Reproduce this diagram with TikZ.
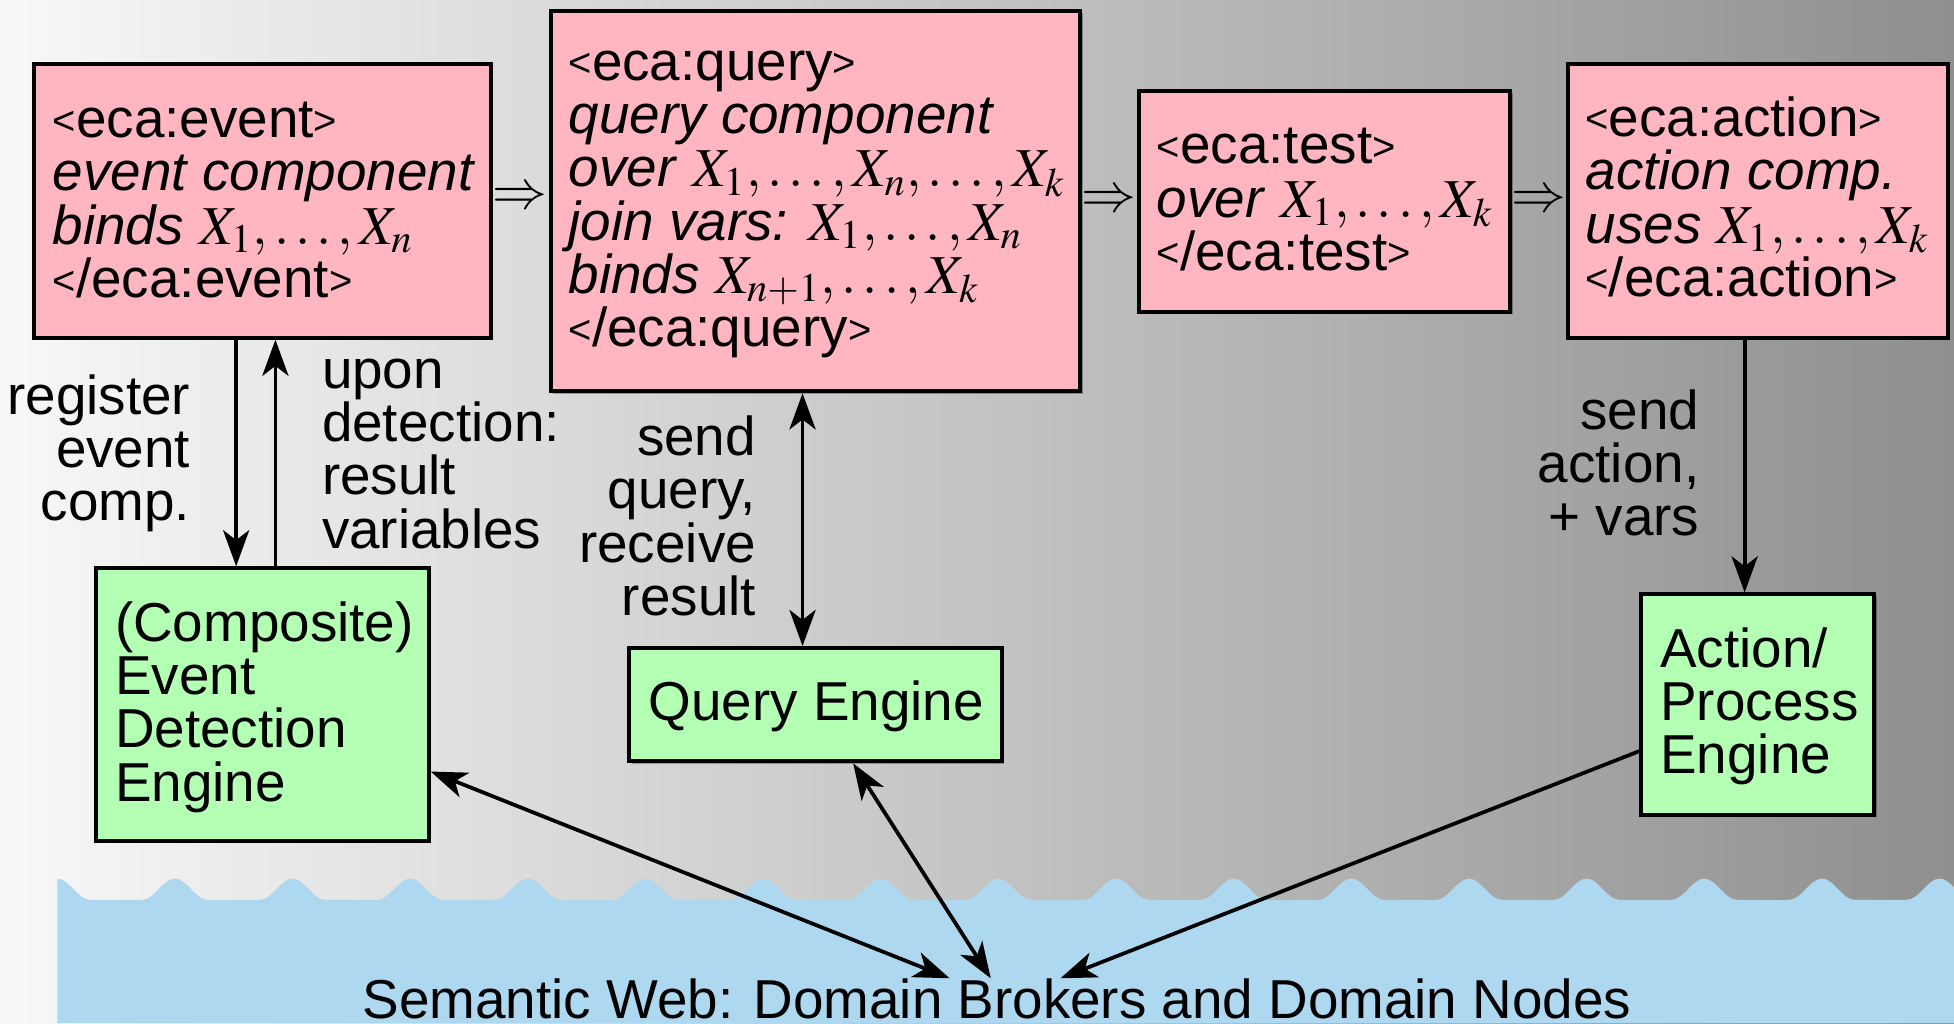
\documentclass[tikz,border=0pt]{standalone}
\usepackage{mathptmx}
\usepackage[no-math]{fontspec}
\setmainfont{Liberation Sans}
\usetikzlibrary{arrows.meta,fit,shadows,calc}
\definecolor{boxpink}{RGB}{255,182,193}
\definecolor{boxgreen}{RGB}{179,255,179}
\definecolor{water}{RGB}{173,216,240}
\definecolor{bgleft}{RGB}{248,248,248}
\definecolor{bgright}{RGB}{143,143,143}
\newcommand\flstrut{\rule{0pt}{17pt}}
\newcommand\lchev{\raisebox{1.4pt}{\fontsize{16}{16}\selectfont<}}
\newcommand\rchev{\raisebox{1.4pt}{\fontsize{16}{16}\selectfont>}}
\begin{document}
\begin{tikzpicture}[x=0.5pt,y=-0.5pt,
  every node/.style={font={\fontsize{22}{21.4}\selectfont\lineskiplimit=-100pt}},
  compbox/.style={draw=black, line width=1.6pt, inner sep=0pt,
    drop shadow={shadow xshift=0.9pt, shadow yshift=-0.9pt, fill=black, opacity=0.3}},
  pinkbox/.style={compbox, fill=boxpink},
  greenbox/.style={compbox, fill=boxgreen},
  txt/.style={inner sep=0pt, align=left, anchor=north west},
  rtxt/.style={inner sep=0pt, align=right, anchor=north east},
  tip/.tip={Stealth[length=14.5pt,width=10.5pt,inset=4pt]},
  conn/.style={line width=1.5pt, -tip},
  dconn/.style={line width=1.5pt, tip-tip},
]
\useasboundingbox (0,0) rectangle (1568,821);
\shade[left color=bgleft, right color=bgright] (0,0) rectangle (1568,821);

% water
\begin{scope}
\clip (0,0) rectangle (1568,821);
\fill[water] (46,821) -- (46,705) .. controls (55.5,705) and (62.5,722) .. (72,722)
  \foreach \c in {140.4,234.8,329.2,423.6,518,612.4,706.8,801.2,895.6,990,1084.4,1178.8,1273.2,1367.6,1462,1556.4}
  { -- (\c-26,722) .. controls (\c-16.5,722) and (\c-9.5,705) .. (\c,705)
       .. controls (\c+9.5,705) and (\c+16.5,722) .. (\c+26,722) }
  -- (1600,722) -- (1600,821) -- cycle;
\end{scope}

% boxes
\node[pinkbox, fit={(27,51)(394,271)}] (ev) {};
\node[pinkbox, fit={(442,9)(867,314)}] (qb) {};
\node[pinkbox, fit={(914,73)(1212,250)}] (tb) {};
\node[pinkbox, fit={(1258,51)(1563,271)}] (ab) {};
\node[greenbox, fit={(77,456)(344,675)}] (ede) {};
\node[greenbox, fit={(505,520)(804,611)}] (qe) {};
\node[greenbox, fit={(1317,477)(1504,654)}] (ape) {};

% box texts
\node[txt] (evt) at (42,76) {\flstrut\lchev eca:event\rchev\\\textit{event component}\\\textit{binds} $X_1,\ldots,X_n$\\\lchev/eca:event\rchev};
\node[txt] (qt) at (456,30) {\flstrut\lchev eca:query\rchev\\\textit{query component}\\\textit{over} $X_1,\ldots,X_n,\ldots,X_k$\\\textit{join vars:} $X_1,\ldots,X_n$\\\textit{binds} $X_{n+1},\ldots,X_k$\\\lchev/eca:query\rchev};
\node[txt] (tt) at (928,97) {\flstrut\lchev eca:test\rchev\\\textit{over} $X_1,\ldots,X_k$\\\lchev/eca:test\rchev};
\node[txt] (actt) at (1272,75) {\flstrut\lchev eca:action\rchev\\\textit{action comp.}\\\textit{uses} $X_1,\ldots,X_k$\\\lchev/eca:action\rchev};
\node[txt] (edet) at (92,480) {\flstrut(Composite)\\Event\\Detection\\Engine};
\node[txt] (qet) at (520,544) {\flstrut Query Engine};
\node[txt] (apet) at (1332,501) {\flstrut Action/\\Process\\Engine};

% implication arrows
\node[inner sep=0pt] (imp1) at (417,159) {$\Rightarrow$};
\node[inner sep=0pt] (imp2) at (890,162) {$\Rightarrow$};
\node[inner sep=0pt] (imp3) at (1235,162) {$\Rightarrow$};

% labels
\node[rtxt] (lreg) at (153,298) {\flstrut register\\event\\comp.};
\node[txt] (lupon) at (258,277) {\flstrut upon\\detection:\\result\\variables};
\node[rtxt] (lsendq) at (607,331) {\flstrut send\\query,\\receive\\result};
\node[rtxt] (lsenda) at (1364,310) {\flstrut send\\action,\\+ vars};
\node[anchor=base, inner sep=0pt] (swt) at (800,817) {Semantic Web: Domain Brokers and Domain Nodes};

\coordinate (swL) at (762,785);
\coordinate (swM) at (795,785);
\coordinate (swR) at (851,785);

% connectors
\draw[conn] ($(ev.south)+(-21,0)$) -- ($(ede.north)+(-21,0)$);
\draw[conn] ($(ede.north)+(10.5,0)$) -- ($(ev.south)+(10.5,0)$);
\draw[dconn] ($(qb.south)+(-10.5,0)$) -- ($(qe.north)+(-10.5,0)$);
\draw[conn] ($(ab.south)+(-10.5,0)$) -- ($(ape.north)+(-10.5,0)$);
\draw[dconn] (ede) -- (swL);
\draw[dconn] (qe) -- (swM);
\draw[conn] (ape) -- (swR);
\end{tikzpicture}
\end{document}
